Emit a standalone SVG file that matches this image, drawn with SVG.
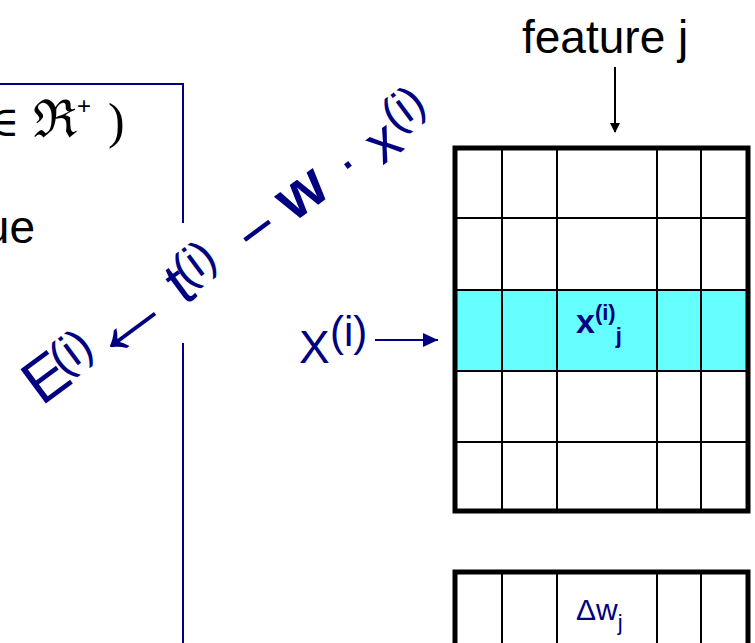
<svg xmlns="http://www.w3.org/2000/svg" width="755" height="643" viewBox="0 0 755 643">
<style>
.nv{fill:#000080;font-family:"Liberation Sans",Arial,sans-serif}
.bk{fill:#000;font-family:"Liberation Sans",Arial,sans-serif}
.sr{fill:#000;font-family:"Liberation Serif","DejaVu Serif",serif}
.grid{stroke:#000;stroke-width:2;fill:none}
.outer{stroke:#000;stroke-width:5;fill:none}
.bl{stroke:#000080;stroke-width:2;fill:none}
</style>
<defs>
<marker id="ahk" markerWidth="10" markerHeight="10" refX="9" refY="5" orient="auto" markerUnits="userSpaceOnUse" viewBox="0 0 10 10"><path d="M0,0 L10,5 L0,10 z" fill="#000"/></marker>
<marker id="ahn" markerWidth="15" markerHeight="14" refX="15" refY="7" orient="auto" markerUnits="userSpaceOnUse" viewBox="0 0 15 14"><path d="M0,0 L15,7 L0,14 z" fill="#000080"/></marker>
</defs>
<rect width="755" height="643" fill="#fff"/>

<g id="left-box">
<path class="bl" d="M0,84 H183 V223"/>
<path class="bl" d="M183,343 V643"/>
<text class="sr" x="19" y="136" font-size="42" text-anchor="end">∈</text>
<text class="sr" x="33" y="137" font-size="52">ℜ</text>
<text class="bk" x="77" y="114" font-size="24">+</text>
<text class="sr" x="108" y="138" font-size="50">)</text>
<text class="bk" x="35" y="243" font-size="46" text-anchor="end">ue</text>
</g>

<g id="formula" transform="translate(40,408) rotate(-36.5)">
<text class="nv" x="23" y="0" font-size="62" text-anchor="middle">E</text>
<text class="nv" x="58" y="-12" font-size="46" text-anchor="middle">(i)</text>
<text class="nv" x="121" y="8" font-size="94" text-anchor="middle">←</text>
<text class="nv" x="185" y="4" font-size="62" text-anchor="middle">t</text>
<text class="nv" x="210" y="-10" font-size="46" text-anchor="middle">(i)</text>
<text class="nv" x="280" y="8" font-size="64" text-anchor="middle">−</text>
<text class="nv" x="338" y="2" font-size="62" font-weight="bold" text-anchor="middle">w</text>
<text class="nv" x="392" y="3" font-size="56" text-anchor="middle">·</text>
<text class="nv" x="434" y="9" font-size="58" text-anchor="middle">x</text>
<text class="nv" x="470" y="-10" font-size="46" text-anchor="middle">(i)</text>
</g>

<g id="feature-label">
<text class="bk" x="522" y="53" font-size="46">feature j</text>
</g>

<g id="matrix">
<rect x="455" y="290" width="293" height="81" fill="#66ffff"/>
<path class="grid" d="M455,218 H748 M455,290 H748 M455,371 H748 M455,442 H748 M502,148 V511 M557,148 V511 M657,148 V511 M701,148 V511"/>
<rect class="outer" x="455" y="148" width="293" height="363"/>
<text class="nv" x="576" y="333" font-size="34" font-weight="bold">x<tspan dy="-13" font-size="22">(i)</tspan><tspan dy="23" font-size="22">j</tspan></text>
</g>

<g id="x-label">
<text class="nv" x="299" y="363" font-size="46">X</text>
<text class="nv" x="330" y="346" font-size="42">(i)</text>
</g>

<g id="delta-w">
<path class="grid" d="M502,572 V650 M557,572 V650 M657,572 V650 M701,572 V650"/>
<path class="outer" d="M455,650 V572 H748 V650"/>
<text class="nv" x="576" y="620" font-size="30">Δw<tspan dy="10" font-size="22">j</tspan></text>
</g>

<g id="connectors">
<line x1="615" y1="67" x2="615" y2="132" stroke="#000" stroke-width="2" marker-end="url(#ahk)"/>
<line x1="375" y1="340" x2="438" y2="340" stroke="#000080" stroke-width="2" marker-end="url(#ahn)"/>
</g>
</svg>
